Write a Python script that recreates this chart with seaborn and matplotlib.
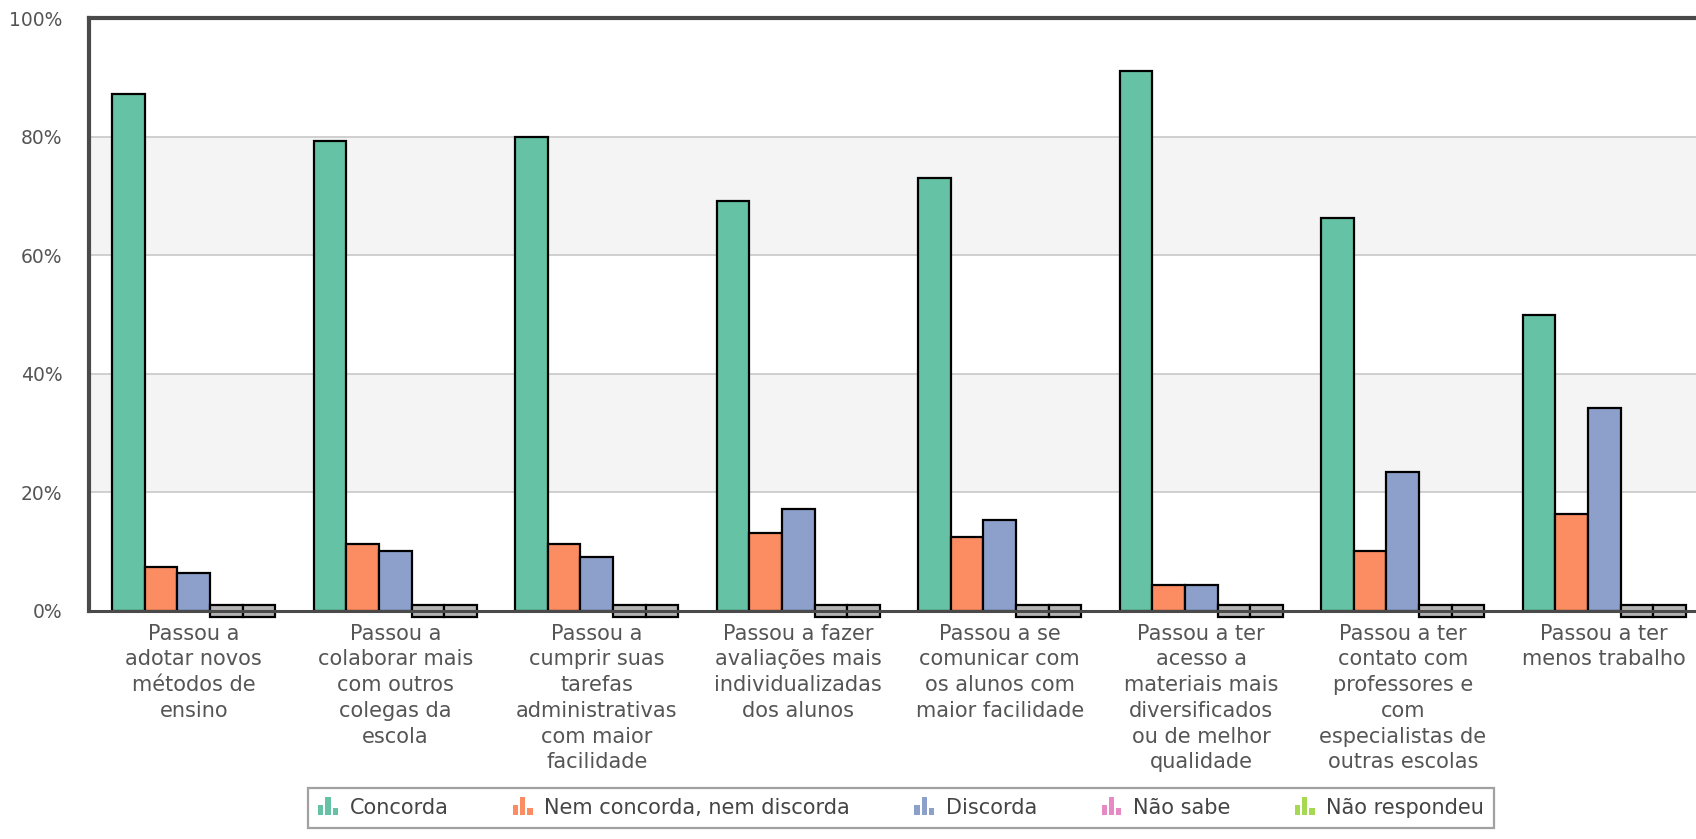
import numpy as np
import pandas as pd
import matplotlib
matplotlib.use("Agg")
import matplotlib.pyplot as plt
from matplotlib.patches import Rectangle
from matplotlib.legend_handler import HandlerBase
import seaborn as sns

categories = [
    "Passou a\nadotar novos\nmétodos de\nensino",
    "Passou a\ncolaborar mais\ncom outros\ncolegas da\nescola",
    "Passou a\ncumprir suas\ntarefas\nadministrativas\ncom maior\nfacilidade",
    "Passou a fazer\navaliações mais\nindividualizadas\ndos alunos",
    "Passou a se\ncomunicar com\nos alunos com\nmaior facilidade",
    "Passou a ter\nacesso a\nmateriais mais\ndiversificados\nou de melhor\nqualidade",
    "Passou a ter\ncontato com\nprofessores e\ncom\nespecialistas de\noutras escolas",
    "Passou a ter\nmenos trabalho",
]
series = ["Concorda", "Nem concorda, nem discorda", "Discorda", "Não sabe", "Não respondeu"]
concorda = [87.2, 79.2, 80.0, 69.2, 73.0, 91.1, 66.3, 50.0]
nem = [7.5, 11.3, 11.3, 13.1, 12.4, 4.4, 10.2, 16.3]
discorda = [6.4, 10.2, 9.1, 17.2, 15.3, 4.4, 23.4, 34.2]
nao_sabe = [0, 0, 0, 0, 0, 0, 0, 0]
nao_respondeu = [0, 0, 0, 0, 0, 0, 0, 0]
colors = ["#66c2a5", "#fc8d62", "#8da0cb", "#e78ac3", "#a6d854"]
yticks = [0, 20, 40, 60, 80, 100]

values = [concorda, nem, discorda, nao_sabe, nao_respondeu]
df = pd.DataFrame(
    [(c, s, v) for s, vals in zip(series, values) for c, v in zip(categories, vals)],
    columns=["categoria", "resposta", "valor"],
)

sns.set_theme(style="white")
plt.rcParams["font.family"] = ["DejaVu Sans"]
text_color = "#555555"

fig = plt.figure(figsize=(16.96, 8.39), dpi=100)
ax = fig.add_axes([89 / 1696, 1 - 611 / 839, 1612 / 1696, 593 / 839])

# alternating background bands
for lo, hi in [(20, 40), (60, 80)]:
    ax.axhspan(lo, hi, color="#f4f4f4", zorder=0, lw=0)
for y in [20, 40, 60, 80]:
    ax.axhline(y, color="#c8c8c8", lw=1.2, zorder=0.5)

sns.barplot(
    data=df, x="categoria", y="valor", hue="resposta",
    order=categories, hue_order=series, palette=colors,
    width=0.81, saturation=1, errorbar=None, legend=False,
    edgecolor="black", linewidth=1.6, ax=ax, zorder=2,
)

# zero-valued answers are shown as a small flat box sitting on the baseline
for cont in ax.containers:
    for patch in cont.patches:
        if patch.get_height() == 0:
            patch.set_y(-1.0)
            patch.set_height(2.0)
            patch.set_facecolor("#b4b4b4")
            patch.set_clip_on(False)

ax.set_xlim(-0.52, 7.48)
ax.set_ylim(0, 100)
ax.set_yticks(yticks)
ax.set_yticklabels([f"{t}%" for t in yticks])
ax.set_xlabel("")
ax.set_ylabel("")
ax.tick_params(axis="y", length=0, pad=19, labelsize=13.5, labelcolor=text_color)
ax.tick_params(axis="x", length=0, pad=9, labelsize=15, labelcolor=text_color)
for lab in ax.get_xticklabels():
    lab.set_linespacing(1.36)
    lab.set_horizontalalignment("center")

for side in ["left", "top", "bottom"]:
    ax.spines[side].set_visible(True)
    ax.spines[side].set_color("#4a4a4a")
    ax.spines[side].set_zorder(5)
ax.spines["left"].set_linewidth(3)
ax.spines["top"].set_linewidth(3)
ax.spines["bottom"].set_linewidth(2.2)
ax.spines["right"].set_visible(False)


class BarIconHandler(HandlerBase):
    def create_artists(self, legend, orig_handle, xdescent, ydescent,
                       width, height, fontsize, trans):
        color = orig_handle.get_facecolor()
        artists = []
        bw = width / 4.0
        for i, h in enumerate([0.6, 1.05, 0.4]):
            r = Rectangle((i * (bw + 1.5), -ydescent - 1), bw,
                          height * h * 1.2, facecolor=color, edgecolor="none",
                          transform=trans)
            artists.append(r)
        return artists


handles = [Rectangle((0, 0), 1, 1, facecolor=c) for c in colors]
leg = fig.legend(
    handles, series, loc="center", bbox_to_anchor=(901 / 1696, 1 - 808 / 839),
    ncol=5, frameon=True, fancybox=False, fontsize=15,
    handler_map={Rectangle: BarIconHandler()},
    handlelength=1.0, handletextpad=0.5, columnspacing=3.1,
    borderpad=0.5, labelcolor="#444444",
)
leg.get_frame().set_edgecolor("#8a8a8a")
leg.get_frame().set_linewidth(1.6)

fig.savefig("out.png", dpi=100)
